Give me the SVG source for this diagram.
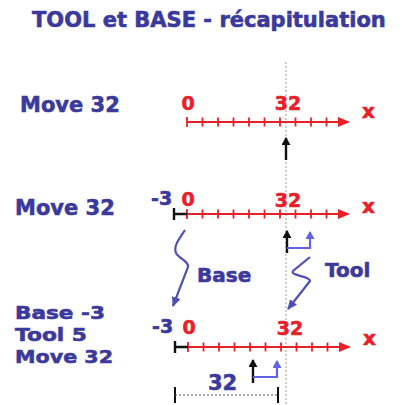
<svg xmlns="http://www.w3.org/2000/svg" width="405" height="405" viewBox="0 0 405 405">
<style>
.t{font-family:"DejaVu Sans","Liberation Sans",sans-serif;font-weight:bold;fill:#3b3a9c;stroke:#3b3a9c;stroke-width:0.6}
.r{font-family:"DejaVu Sans","Liberation Sans",sans-serif;font-weight:bold;fill:#e8202a;stroke:#e8202a;stroke-width:0.6}
.ax{stroke:#e8202a;stroke-width:2.2;fill:none}
.tk{stroke:#e8202a;stroke-width:1.8}
.bk{stroke:#111;stroke-width:2.4;fill:none}
.bl{stroke:#6262e6;stroke-width:2.2;fill:none}
.sq{stroke:#5050b4;stroke-width:2.2;fill:none}
</style>
<defs>
<marker id="ra" markerWidth="12" markerHeight="10" refX="10" refY="5" orient="auto" markerUnits="userSpaceOnUse" viewBox="0 0 12 10"><path d="M0,0 L12,5 L0,10 z" fill="#e8202a"/></marker>
<marker id="ka" markerWidth="8" markerHeight="9" refX="7" refY="4.5" orient="auto" markerUnits="userSpaceOnUse" viewBox="0 0 8 9"><path d="M0,0 L8,4.5 L0,9 z" fill="#111"/></marker>
<marker id="ba" markerWidth="8" markerHeight="9" refX="7" refY="4.5" orient="auto" markerUnits="userSpaceOnUse" viewBox="0 0 8 9"><path d="M0,0 L8,4.5 L0,9 z" fill="#6262e6"/></marker>
<marker id="sa" markerWidth="10" markerHeight="9" refX="9" refY="4.5" orient="auto" markerUnits="userSpaceOnUse" viewBox="0 0 10 9"><path d="M0,0 L10,4.5 L0,9 z" fill="#5050b4"/></marker>
<g id="ticks">
<path class="tk" d="M187,-5V5M202.5,-4.5V4.5M218,-4.5V4.5M233.5,-4.5V4.5M249,-4.5V4.5M264.5,-4.5V4.5M280,-4.5V4.5M295.5,-4.5V4.5M311,-4.5V4.5M326.5,-4.5V4.5"/>
<line class="ax" x1="187" y1="0" x2="348" y2="0" marker-end="url(#ra)"/>
</g>
</defs>
<text class="t" x="32" y="27" font-size="21">TOOL et BASE - récapitulation</text>
<line x1="286" y1="62" x2="286" y2="405" stroke="#999" stroke-width="1" stroke-dasharray="2,2"/>
<g id="row1">
<text class="t" x="20" y="112" font-size="21">Move 32</text>
<use href="#ticks" y="122"/>
<text class="r" x="188" y="110" font-size="19" text-anchor="middle">0</text>
<text class="r" x="288" y="110" font-size="19" text-anchor="middle">32</text>
<text class="r" x="362" y="118" font-size="20">x</text>
<line class="bk" x1="286" y1="160" x2="286" y2="138" marker-end="url(#ka)"/>
</g>
<g id="row2">
<text class="t" x="15" y="215" font-size="21">Move 32</text>
<use href="#ticks" y="214"/>
<path class="bk" d="M174,208V220M174,214H187"/>
<text class="t" x="151" y="205" font-size="19">-3</text>
<text class="r" x="188" y="206" font-size="19" text-anchor="middle">0</text>
<text class="r" x="288" y="207" font-size="19" text-anchor="middle">32</text>
<text class="r" x="362" y="213" font-size="20">x</text>
<line class="bk" x1="287" y1="253" x2="287" y2="231" marker-end="url(#ka)"/>
<path class="bl" d="M287,248H310V232" marker-end="url(#ba)"/>
</g>
<g id="base">
<path class="sq" d="M185,230 C180,238 173,246 176,253 C179,259 189,261 188,267 L173,306" marker-end="url(#sa)"/>
<text class="t" x="197" y="282" font-size="20">Base</text>
</g>
<g id="tool">
<path class="sq" d="M310,257 L293,271 C290,276 310,276 310,281 L288,309" marker-end="url(#sa)"/>
<text class="t" x="325" y="277" font-size="20">Tool</text>
</g>
<g id="row3">
<text class="t" x="15" y="319" font-size="18.5" textLength="90" lengthAdjust="spacingAndGlyphs">Base -3</text>
<text class="t" x="15" y="341" font-size="18.5" textLength="72" lengthAdjust="spacingAndGlyphs">Tool 5</text>
<text class="t" x="15" y="363" font-size="18.5" textLength="98" lengthAdjust="spacingAndGlyphs">Move 32</text>
<use href="#ticks" x="1" y="347"/>
<path class="bk" d="M175,341V353M175,347H188"/>
<text class="t" x="152" y="333" font-size="19">-3</text>
<text class="r" x="189" y="334" font-size="19" text-anchor="middle">0</text>
<text class="r" x="290" y="335" font-size="19" text-anchor="middle">32</text>
<text class="r" x="363" y="345" font-size="20">x</text>
<line class="bk" x1="253" y1="383" x2="253" y2="360" marker-end="url(#ka)"/>
<path class="bl" d="M253,377H277V361" marker-end="url(#ba)"/>
</g>
<g id="dim">
<path stroke="#111" stroke-width="2" d="M175,387V403M278,387V403"/>
<line x1="175" y1="395" x2="278" y2="395" stroke="#555" stroke-width="1" stroke-dasharray="2,2"/>
<text class="t" x="208" y="390" font-size="21">32</text>
</g>
</svg>
